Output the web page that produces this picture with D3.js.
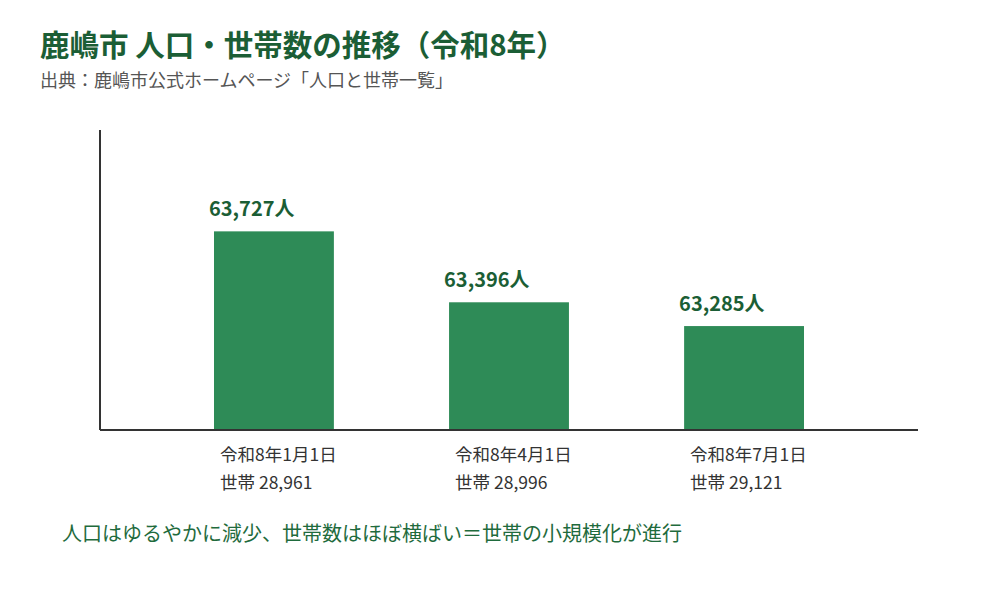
<!DOCTYPE html>
<html>
<head>
<meta charset="utf-8">
<script src="https://cdn.jsdelivr.net/npm/d3@7"></script>
<style>
  body { margin: 0; background: #fff; }
  svg { font-family: "Noto Sans CJK JP", "Noto Sans", sans-serif; }
</style>
</head>
<body>
<svg id="chart" width="1000" height="600"></svg>
<script>
const dates = ["令和8年1月1日", "令和8年4月1日", "令和8年7月1日"];
const population = [63727, 63396, 63285];
const households = [28961, 28996, 29121];

const svg = d3.select("#chart");
const fmt = d3.format(",");

const x = d3.scaleBand()
    .domain(dates)
    .range([100, 918])
    .paddingInner(0.49)
    .paddingOuter(0.485);

const y = d3.scaleLinear()
    .domain([62800, 64200])
    .range([430, 130]);

svg.append("text")
    .attr("x", 40)
    .attr("y", 56)
    .attr("fill", "#1b5e35")
    .style("font-size", "29.5px")
    .style("font-weight", "bold")
    .text("鹿嶋市 人口・世帯数の推移（令和8年）");

svg.append("text")
    .attr("x", 40)
    .attr("y", 87)
    .attr("fill", "#555")
    .style("font-size", "18px")
    .text("出典：鹿嶋市公式ホームページ「人口と世帯一覧」");

const data = dates.map((d, i) => ({ date: d, pop: population[i], hh: households[i] }));

svg.selectAll("rect.bar")
    .data(data)
    .join("rect")
    .attr("class", "bar")
    .attr("x", d => x(d.date))
    .attr("y", d => y(d.pop))
    .attr("width", x.bandwidth())
    .attr("height", d => y(62800) - y(d.pop))
    .attr("fill", "#2e8b57");

svg.selectAll("text.val")
    .data(data)
    .join("text")
    .attr("class", "val")
    .attr("x", d => x(d.date) - 5)
    .attr("y", d => y(d.pop) - 15)
    .attr("fill", "#1b5e35")
    .style("font-size", "20px")
    .style("font-weight", "bold")
    .text(d => fmt(d.pop) + "人");

const labels = svg.selectAll("text.cat")
    .data(data)
    .join("text")
    .attr("class", "cat")
    .attr("fill", "#333")
    .style("font-size", "17.5px");

labels.append("tspan")
    .attr("x", d => x(d.date) + 6)
    .attr("y", 461)
    .text(d => d.date);

labels.append("tspan")
    .attr("x", d => x(d.date) + 6)
    .attr("y", 489)
    .text(d => "世帯 " + fmt(d.hh));

// axes
svg.append("line")
    .attr("x1", 100).attr("x2", 100)
    .attr("y1", y(64200)).attr("y2", y(62800))
    .attr("stroke", "#333").attr("stroke-width", 2);

svg.append("line")
    .attr("x1", 100).attr("x2", 918)
    .attr("y1", y(62800)).attr("y2", y(62800))
    .attr("stroke", "#333").attr("stroke-width", 2);

svg.append("text")
    .attr("x", 62)
    .attr("y", 541)
    .attr("fill", "#1f6b3d")
    .style("font-size", "20px")
    .text("人口はゆるやかに減少、世帯数はほぼ横ばい＝世帯の小規模化が進行");
</script>
</body>
</html>
